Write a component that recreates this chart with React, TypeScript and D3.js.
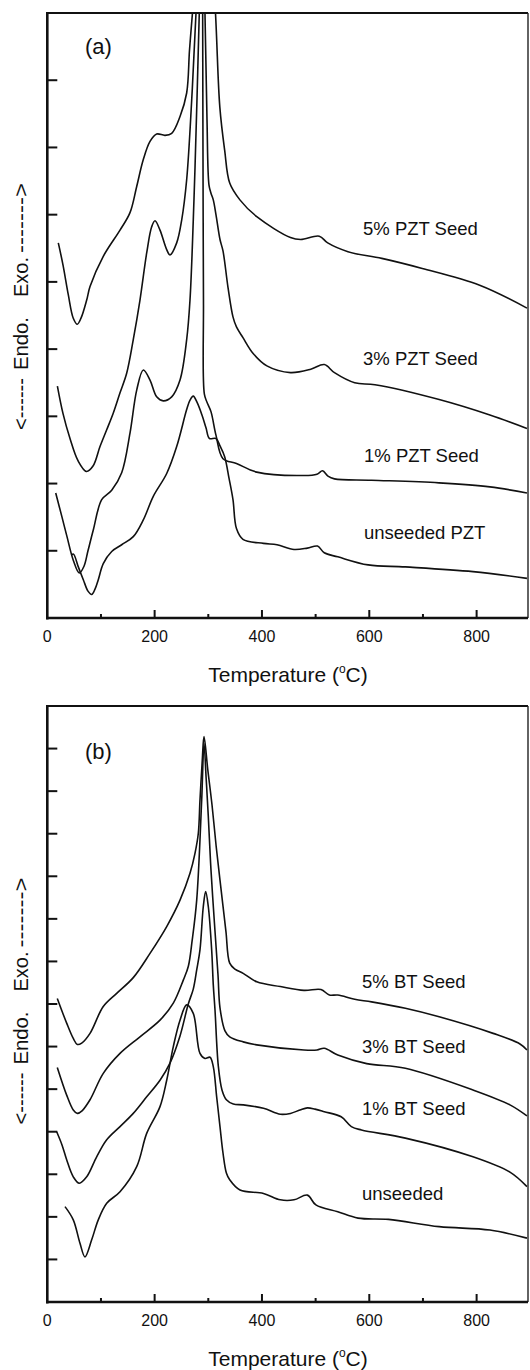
import React from 'react';
import * as d3 from 'd3';

// ---------- data (Temperature °C, heat flow in arbitrary units) ----------
const xTicksMajor = [0, 200, 400, 600, 800];
const xTicksMinor = [100, 300, 500, 700];

const pzt5: [number, number][] = [
  [20.5, 5.58], [29.3, 5.25], [39.1, 4.81], [48.4, 4.46], [55.9, 4.37], [62.8, 4.46], [73.4, 4.73], [79.6, 4.93],
  [104.3, 5.38], [135.5, 5.77], [154.1, 6.03], [166.6, 6.42], [178.9, 6.82], [191.4, 7.09], [203.8, 7.2], [219.3, 7.18],
  [231.8, 7.21], [247.3, 7.46], [259.7, 7.81], [265, 8.45], [270.5, 9.0], [295, 11.5], [313.4, 9.0], [321.5, 7.6],
  [330.5, 6.96], [339.9, 6.47], [358.9, 6.22], [390.3, 5.97], [453.1, 5.66], [472.2, 5.63], [506.8, 5.68], [522.5, 5.58],
  [560.3, 5.45], [623.3, 5.35], [698.7, 5.2], [805.7, 4.95], [893.8, 4.61],
];
const pzt3: [number, number][] = [
  [18.8, 3.45], [29.3, 3.04], [42.3, 2.67], [57.2, 2.34], [73.0, 2.18], [85.2, 2.26], [98.2, 2.55], [110.7, 2.8],
  [123.0, 3.05], [135.5, 3.35], [147.9, 3.64], [160.2, 4.14], [172.7, 4.73], [185.2, 5.43], [194.5, 5.82], [200.7, 5.91],
  [210, 5.77], [222.5, 5.48], [228.6, 5.4], [241.1, 5.58], [250.4, 5.92], [259.7, 6.52], [269.1, 7.71], [277.1, 9.0],
  [289, 10.6], [293.8, 9.0], [297.6, 7.41], [301.3, 6.44], [305, 6.32], [309.3, 6.22], [314.3, 6.0], [321.8, 5.63],
  [327.4, 5.46], [336.7, 4.92], [346, 4.48], [352.5, 4.33], [364.6, 4.17], [384, 3.93], [409.2, 3.75], [453.1, 3.65],
  [491, 3.7], [516.1, 3.77], [535.1, 3.65], [572.8, 3.5], [610.6, 3.47], [730.2, 3.25], [824.7, 3.02], [893.8, 2.82],
];
const pzt1: [number, number][] = [
  [15.7, 1.86], [27.4, 1.5], [36.7, 1.21], [48.4, 0.86], [59.6, 0.67], [68.4, 0.77], [75.8, 1.0], [85.7, 1.31],
  [101.4, 1.76], [120, 1.9], [138.6, 2.16], [154.1, 2.75], [166.6, 3.39], [178.9, 3.69], [191.4, 3.54], [203.8, 3.29],
  [216.1, 3.23], [231.8, 3.29], [247.3, 3.54], [259.7, 4.14], [265.9, 4.73], [273.3, 6.22], [278.9, 7.71], [283.2, 9.0],
  [289, 10.5], [289.5, 9.0], [290.1, 6.96], [291, 4.73], [292.7, 3.33], [297.6, 3.21], [305, 3.07], [314.3, 2.72],
  [327.4, 2.37], [352.5, 2.3], [390.3, 2.17], [478.3, 2.12], [502.5, 2.14], [512.9, 2.19], [523, 2.11], [535.1, 2.07],
  [604.3, 2.05], [729.8, 2.01], [824.8, 1.95], [893.8, 1.86],
];
const pztUnseeded: [number, number][] = [
  [45.5, 0.94], [48.8, 0.95], [57.8, 0.76], [67.1, 0.57], [75.8, 0.4], [82.7, 0.35], [88.9, 0.43], [95, 0.57],
  [104.3, 0.81], [120, 0.99], [138.6, 1.09], [160.2, 1.21], [178.9, 1.46], [197.5, 1.81], [222.5, 2.15], [241.1, 2.55],
  [259.7, 3.1], [265.9, 3.24], [272, 3.3], [278.9, 3.21], [288.2, 3.02], [295.7, 2.83], [302.2, 2.67], [314.3, 2.67],
  [321.8, 2.56], [330.5, 2.4], [338.6, 2.08], [346, 1.76], [352.5, 1.33], [364.6, 1.17], [402.8, 1.11], [428, 1.09],
  [459.7, 1.02], [484.6, 1.04], [503.6, 1.07], [516.1, 0.97], [541.3, 0.91], [597.9, 0.79], [667.2, 0.76],
  [793.2, 0.69], [893.8, 0.59],
];

const bt5: [number, number][] = [
  [18.6, 7.13], [36.1, 6.55], [48.4, 6.19], [55.9, 6.05], [64.1, 6.08], [79.6, 6.31], [104.3, 6.94], [129.3, 7.25],
  [160.2, 7.62], [191.4, 8.19], [222.5, 8.82], [247.3, 9.44], [265.9, 10.07], [275.2, 10.54], [281.4, 11.01],
  [284.5, 11.79], [288.8, 12.73], [292, 13.28], [299.1, 12.5], [306.9, 11.68], [314.7, 10.7], [321.8, 9.91],
  [327.4, 9.3], [333, 8.69], [339.9, 7.96], [349.7, 7.82], [365, 7.72], [390.3, 7.52], [434.3, 7.41], [478.3, 7.32],
  [510, 7.34], [525.6, 7.21], [541.3, 7.21], [572.8, 7.11], [604.3, 7.05], [667.2, 6.9], [730.2, 6.7], [830.8, 6.31],
  [880.8, 6.06], [893.8, 5.92],
];
const bt3: [number, number][] = [
  [18.6, 5.51], [36.1, 4.86], [48.4, 4.51], [55.9, 4.43], [64.7, 4.49], [79.6, 4.75], [104.3, 5.37], [135.5, 5.84],
  [172.7, 6.23], [210, 6.62], [234.8, 7.02], [253.4, 7.56], [262.7, 7.88], [270, 8.5], [278.4, 9.44], [287.7, 11.79],
  [292, 13.12], [296, 12.3], [300, 11.41], [305, 10.15], [312.5, 8.71], [318.1, 7.68], [321.8, 6.91], [331.1, 6.37],
  [339.9, 6.23], [365, 6.11], [390.3, 6.04], [478.3, 5.92], [502.5, 5.92], [516.1, 5.96], [541.3, 5.8], [595.1, 5.6],
  [667.2, 5.49], [793.2, 4.98], [862.1, 4.63], [893.8, 4.37],
];
const bt1: [number, number][] = [
  [17.5, 4.0], [27.4, 3.69], [36.1, 3.34], [48.4, 2.94], [59.6, 2.79], [73.4, 2.94], [92, 3.41], [110.7, 3.81],
  [135.5, 4.12], [160.2, 4.43], [185.2, 4.82], [210, 5.21], [228.6, 5.61], [247.3, 6.25], [262.7, 7.0], [272, 7.35],
  [278.4, 7.8], [284.5, 8.27], [290.7, 9.29], [295.1, 9.64], [300, 9.29], [306.3, 8.27], [309.3, 7.45], [312.5, 6.86],
  [318.6, 5.55], [325.5, 4.98], [333.7, 4.75], [346.6, 4.65], [365, 4.63], [402.8, 4.55], [434.3, 4.41], [453.1, 4.43],
  [470.8, 4.51], [484.6, 4.56], [498.8, 4.53], [516.1, 4.47], [547.6, 4.35], [566.6, 4.12], [585.4, 4.04],
  [667.2, 3.85], [793.2, 3.41], [862.1, 3.05], [893.8, 2.71],
];
const btUnseeded: [number, number][] = [
  [33, 2.24], [48.4, 1.93], [60.9, 1.38], [70.2, 1.06], [82.7, 1.46], [95, 1.93], [110.7, 2.32], [135.5, 2.59],
  [166.6, 3.18], [185.2, 3.96], [210, 4.59], [222.5, 5.21], [234.8, 6.0], [247.3, 6.62], [259.7, 6.98], [272, 6.78],
  [284.5, 5.84], [293.8, 5.72], [303.2, 5.75], [309.3, 5.53], [315.6, 4.82], [321.8, 4.12], [327.4, 3.5],
  [333.7, 3.03], [339.9, 2.87], [359.1, 2.63], [402.8, 2.55], [434.3, 2.4], [459.7, 2.4], [484.6, 2.51], [500.5, 2.28],
  [541.3, 2.12], [579.1, 1.97], [635.7, 1.94], [730.2, 1.77], [824.8, 1.69], [893.8, 1.5],
];

const seriesA = [pzt5, pzt3, pzt1, pztUnseeded];
const namesA = ['5% PZT Seed', '3% PZT Seed', '1% PZT Seed', 'unseeded PZT'];
const seriesB = [bt5, bt3, bt1, btUnseeded];
const namesB = ['5% BT Seed', '3% BT Seed', '1% BT Seed', 'unseeded'];

// ---------- layout ----------
const W = 530;
const H = 1370;
const X0 = 47.3;
const XR = 528;
const FONT = '"Liberation Sans", Arial, Helvetica, sans-serif';

const x = d3.scaleLinear().domain([0, 895]).range([X0, 527.6]);

type PanelCfg = {
  id: string;
  top: number;
  bottom: number;
  yMax: number;
  series: [number, number][][];
  names: string[];
  labelPos: [number, number][];
  tag: string;
  tagPos: [number, number];
  tickBase: number;
  titleBase: number;
  gap: number;
};

const panels: PanelCfg[] = [
  {
    id: 'a', top: 13, bottom: 618, yMax: 9, series: seriesA, names: namesA,
    labelPos: [[363, 235], [363, 365], [364, 461.7], [364, 539.3]],
    tag: '(a)', tagPos: [85, 54], tickBase: 642, titleBase: 682, gap: 307,
  },
  {
    id: 'b', top: 706, bottom: 1302, yMax: 14, series: seriesB, names: namesB,
    labelPos: [[362, 988.3], [362, 1053.3], [362, 1115], [362, 1200]],
    tag: '(b)', tagPos: [85, 759], tickBase: 1326, titleBase: 1366, gap: 1001.5,
  },
];

function Panel({ p }: { p: PanelCfg }) {
  const y = d3.scaleLinear().domain([0, p.yMax]).range([p.bottom, p.top]);
  const line = d3
    .line<[number, number]>()
    .x((d) => x(d[0]))
    .y((d) => y(d[1]))
    .curve(d3.curveCatmullRom.alpha(0.5));
  const yTicks = d3.range(1, p.yMax);
  const G = p.gap;
  const axisPieces: [string, number, number][] = [
    ['<------', G + 123, 52],
    ['Endo.', G + 63, 53],
    ['Exo.', G - 10, 40],
    ['------->', G - 54, 70],
  ];
  return (
    <g>
      <defs>
        <clipPath id={`clip-${p.id}`}>
          <rect x={X0} y={p.top} width={XR - X0} height={p.bottom - p.top} />
        </clipPath>
      </defs>
      <g clipPath={`url(#clip-${p.id})`}>
        {p.series.map((s, i) => (
          <path key={i} d={line(s) || ''} fill="none" stroke="#111" strokeWidth={1.6} strokeLinejoin="round" />
        ))}
      </g>
      {/* frame */}
      <line x1={X0} x2={XR} y1={p.top} y2={p.top} stroke="#111" strokeWidth={2.2} />
      <line x1={XR} x2={XR} y1={p.top} y2={p.bottom} stroke="#222" strokeWidth={1.4} />
      <line x1={X0} x2={X0} y1={p.top - 1} y2={p.bottom + 1.5} stroke="#111" strokeWidth={2.6} />
      <line x1={X0 - 1} x2={XR} y1={p.bottom} y2={p.bottom} stroke="#111" strokeWidth={2.6} />
      {/* y ticks */}
      {yTicks.map((t) => (
        <line key={t} x1={X0} x2={X0 + 10} y1={y(t)} y2={y(t)} stroke="#111" strokeWidth={2} />
      ))}
      {/* x ticks */}
      {xTicksMajor.filter((t) => t > 0).map((t) => (
        <line key={`M${t}`} x1={x(t)} x2={x(t)} y1={p.bottom} y2={p.bottom - 8} stroke="#111" strokeWidth={2} />
      ))}
      {xTicksMinor.map((t) => (
        <line key={`m${t}`} x1={x(t)} x2={x(t)} y1={p.bottom} y2={p.bottom - 4} stroke="#111" strokeWidth={2} />
      ))}
      {xTicksMajor.map((t) => (
        <text key={`l${t}`} x={x(t)} y={p.tickBase} textAnchor="middle" fontSize={16} fontFamily={FONT} fill="#111">
          {t}
        </text>
      ))}
      {/* x title */}
      <text x={288} y={p.titleBase} textAnchor="middle" fontSize={21} fontFamily={FONT} fill="#111">
        Temperature (
        <tspan fontSize={12} dy={-9}>o</tspan>
        <tspan dy={9}>C)</tspan>
      </text>
      {/* panel tag */}
      <text x={p.tagPos[0]} y={p.tagPos[1]} fontSize={22} fontFamily={FONT} fill="#111">
        {p.tag}
      </text>
      {/* curve labels */}
      {p.names.map((n, i) => (
        <text key={n} x={p.labelPos[i][0]} y={p.labelPos[i][1]} fontSize={18.5} fontFamily={FONT} fill="#111">
          {n}
        </text>
      ))}
      {/* y axis label */}
      {axisPieces.map(([s, py, len]) => (
        <text
          key={s}
          transform={`translate(28,${py}) rotate(-90)`}
          fontSize={20}
          fontFamily={FONT}
          fill="#111"
          textLength={len}
          lengthAdjust="spacingAndGlyphs"
        >
          {s}
        </text>
      ))}
    </g>
  );
}

export default function App() {
  return (
    <svg
      width={W}
      height={H}
      viewBox={`0 0 ${W} ${H}`}
      style={{ position: 'absolute', left: 0, top: 0, background: '#fff', display: 'block' }}
    >
      <rect x={0} y={0} width={W} height={H} fill="#fff" />
      {panels.map((p) => (
        <Panel key={p.id} p={p} />
      ))}
    </svg>
  );
}
